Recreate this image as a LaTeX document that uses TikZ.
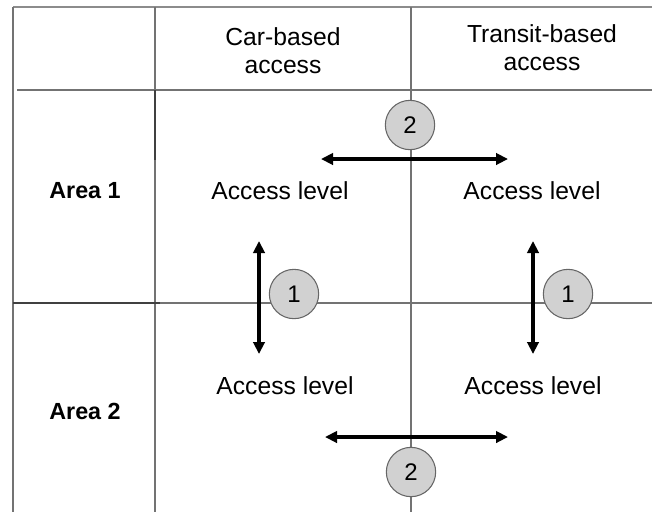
\documentclass[tikz,border=0pt]{standalone}
\usepackage{fontspec}
\setmainfont{Liberation Sans}
\usetikzlibrary{positioning,calc,arrows.meta}
\tikzset{HEAD/.style={align=center,font=\fontsize{18.5}{21}\selectfont,inner sep=0pt}}
\tikzset{AREA/.style={font=\bfseries\fontsize{17.5}{21}\selectfont,inner sep=0pt}}
\tikzset{LEVEL/.style={font=\fontsize{18.5}{21}\selectfont,inner sep=0pt}}
\tikzset{BADGE/.style={circle,draw=black!60,line width=0.8pt,fill=black!18,minimum size=37pt,inner sep=0pt,font=\fontsize{18}{20}\selectfont}}
\tikzset{ARROW/.style={line width=2.9pt,{Triangle[length=9pt,width=8.5pt]}-{Triangle[length=9pt,width=8.5pt]}}}
\tikzset{GRID/.style={draw=black!55,line width=0.9pt}}

\begin{document}
\begin{tikzpicture}[x=0.75pt,y=-0.75pt]
\useasboundingbox (0,0) rectangle (652,512);

% table lines
\draw[GRID,draw=black!45,line width=1.8pt] (13,7) -- (652,7);
\draw[GRID] (13,7) -- (13,512);
\draw[GRID] (155,7) -- (155,512);
\draw[GRID] (411,7) -- (411,512);
\draw[GRID] (17,90) -- (652,90);
\draw[GRID] (13,303) -- (652,303);
\draw[GRID,draw=black!75,line width=1.4pt] (155,90) -- (155,160);
\draw[GRID,draw=black!75,line width=1.2pt] (13,303) -- (160,303);

% headers
\node[HEAD] (n_car) at (283,51) {Car-based\\access};
\node[HEAD] (n_transit) at (542,48) {Transit-based\\access};
\node[AREA] (n_area1) at (85,191) {Area 1};
\node[AREA] (n_area2) at (85,411) {Area 2};

% access levels
\node[LEVEL] (n_lvl_car1) at (280,191) {Access level};
\node[LEVEL] (n_lvl_tr1) at (532,191) {Access level};
\node[LEVEL] (n_lvl_car2) at (285,386) {Access level};
\node[LEVEL] (n_lvl_tr2) at (533,386) {Access level};

% comparison arrows
\coordinate (c_top_l) at (321,159);
\coordinate (c_top_r) at (508,159);
\coordinate (c_bot_l) at (325,437);
\coordinate (c_bot_r) at (508,437);
\coordinate (c_car_t) at (259,241);
\coordinate (c_car_b) at (259,354);
\coordinate (c_tr_t) at (533,241);
\coordinate (c_tr_b) at (533,354);
\draw[ARROW] (c_top_l) -- (c_top_r);
\draw[ARROW] (c_bot_l) -- (c_bot_r);
\draw[ARROW] (c_car_t) -- (c_car_b);
\draw[ARROW] (c_tr_t) -- (c_tr_b);

% badges
\node[BADGE] (n_two_top) at (410,125) {2};
\node[BADGE] (n_two_bot) at (411,472) {2};
\node[BADGE] (n_one_car) at (294,294) {1};
\node[BADGE] (n_one_tr) at (568,294) {1};

\end{tikzpicture}
\end{document}
